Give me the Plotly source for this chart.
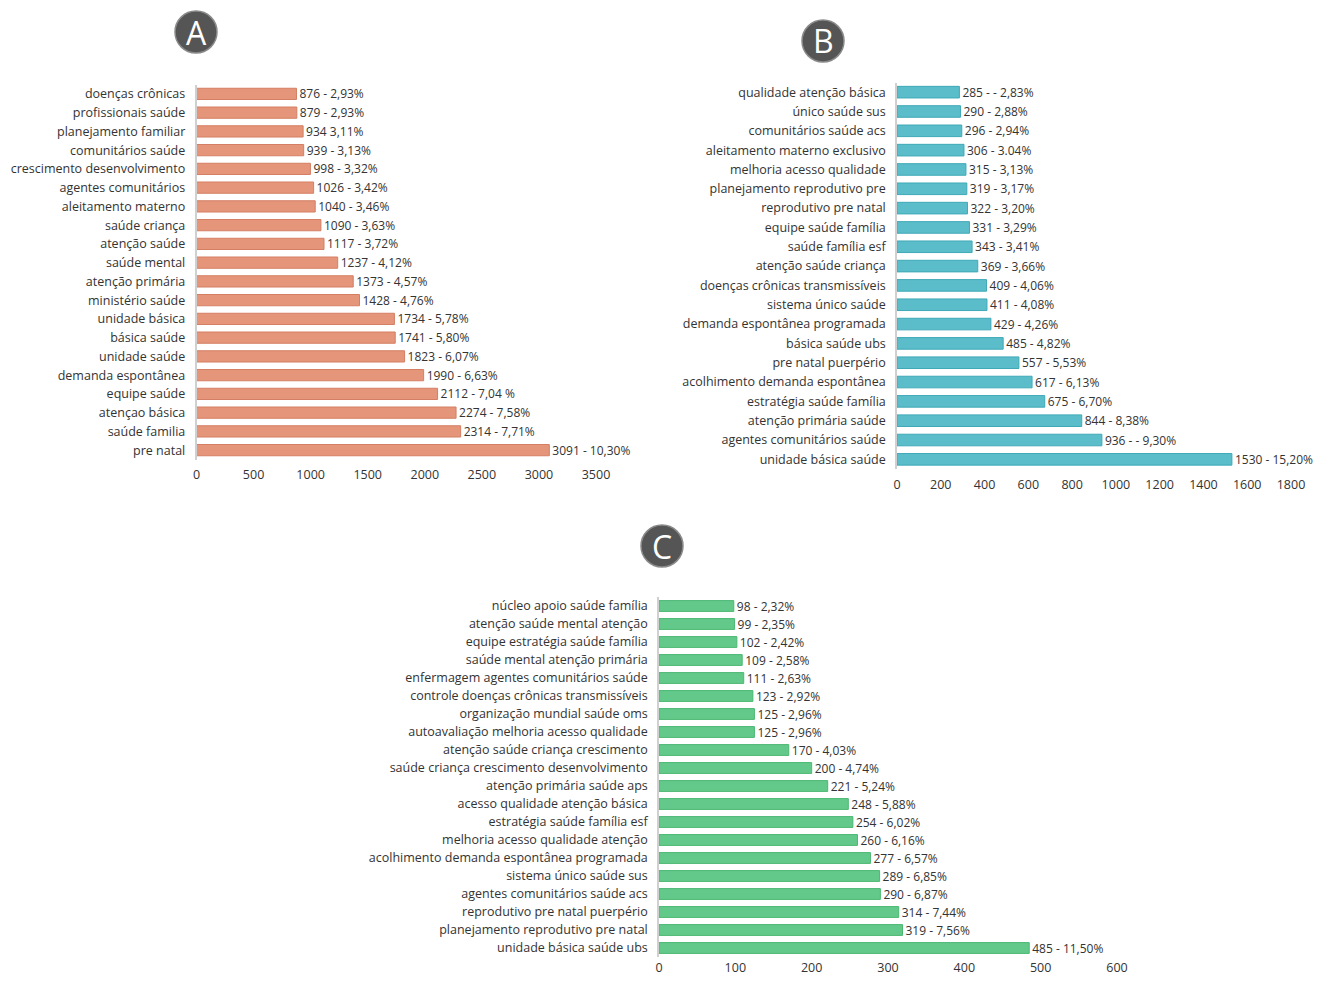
import plotly.graph_objects as go

# painel A - termos mais frequentes (bigramas)
cats_a = ["doenças crônicas", "profissionais saúde", "planejamento familiar", "comunitários saúde",
          "crescimento desenvolvimento", "agentes comunitários", "aleitamento materno", "saúde criança",
          "atenção saúde", "saúde mental", "atenção primária", "ministério saúde", "unidade básica",
          "básica saúde", "unidade saúde", "demanda espontânea", "equipe saúde", "atençao básica",
          "saúde familia", "pre natal"]
vals_a = [876, 879, 934, 939, 998, 1026, 1040, 1090, 1117, 1237, 1373, 1428, 1734, 1741, 1823,
          1990, 2112, 2274, 2314, 3091]
text_a = ["876 - 2,93%", "879 - 2,93%", "934 3,11%", "939 - 3,13%", "998 - 3,32%", "1026 - 3,42%",
          "1040 - 3,46%", "1090 - 3,63%", "1117 - 3,72%", "1237 - 4,12%", "1373 - 4,57%",
          "1428 - 4,76%", "1734 - 5,78%", "1741 - 5,80%", "1823 - 6,07%", "1990 - 6,63%",
          "2112 - 7,04 %", "2274 - 7,58%", "2314 - 7,71%", "3091 - 10,30%"]

# painel B - trigramas
cats_b = ["qualidade atenção básica", "único saúde sus", "comunitários saúde acs",
          "aleitamento materno exclusivo", "melhoria acesso qualidade", "planejamento reprodutivo pre",
          "reprodutivo pre natal", "equipe saúde família", "saúde família esf", "atenção saúde criança",
          "doenças crônicas transmissíveis", "sistema único saúde", "demanda espontânea programada",
          "básica saúde ubs", "pre natal puerpério", "acolhimento demanda espontânea",
          "estratégia saúde família", "atenção primária saúde", "agentes comunitários saúde",
          "unidade básica saúde"]
vals_b = [285, 290, 296, 306, 315, 319, 322, 331, 343, 369, 409, 411, 429, 485, 557, 617, 675,
          844, 936, 1530]
text_b = ["285 - - 2,83%", "290 - 2,88%", "296 - 2,94%", "306 - 3.04%", "315 - 3,13%", "319 - 3,17%",
          "322 - 3,20%", "331 - 3,29%", "343 - 3,41%", "369 - 3,66%", "409 - 4,06%", "411 - 4,08%",
          "429 - 4,26%", "485 - 4,82%", "557 - 5,53%", "617 - 6,13%", "675 - 6,70%", "844 - 8,38%",
          "936 - - 9,30%", "1530 - 15,20%"]

# painel C - quadrigramas
cats_c = ["núcleo apoio saúde família", "atenção saúde mental atenção", "equipe estratégia saúde família",
          "saúde mental atenção primária", "enfermagem agentes comunitários saúde",
          "controle doenças crônicas transmissíveis", "organização mundial saúde oms",
          "autoavaliação melhoria acesso qualidade", "atenção saúde criança crescimento",
          "saúde criança crescimento desenvolvimento", "atenção primária saúde aps",
          "acesso qualidade atenção básica", "estratégia saúde família esf",
          "melhoria acesso qualidade atenção", "acolhimento demanda espontânea programada",
          "sistema único saúde sus", "agentes comunitários saúde acs", "reprodutivo pre natal puerpério",
          "planejamento reprodutivo pre natal", "unidade básica saúde ubs"]
vals_c = [98, 99, 102, 109, 111, 123, 125, 125, 170, 200, 221, 248, 254, 260, 277, 289, 290, 314,
          319, 485]
text_c = ["98 - 2,32%", "99 - 2,35%", "102 - 2,42%", "109 - 2,58%", "111 - 2,63%", "123 - 2,92%",
          "125 - 2,96%", "125 - 2,96%", "170 - 4,03%", "200 - 4,74%", "221 - 5,24%", "248 - 5,88%",
          "254 - 6,02%", "260 - 6,16%", "277 - 6,57%", "289 - 6,85%", "290 - 6,87%", "314 - 7,44%",
          "319 - 7,56%", "485 - 11,50%"]

# a pagina tem margem de 8px, entao a figura fica um pouco menor que a janela
OFF = 8
W, H = 1325 - 2 * OFF, 984 - 2 * OFF
FONT = "Open Sans"
TXT = "#333333"


def px(x):
    return (x - OFF) / W


def py(y):
    return 1 - (y - OFF) / H


paineis = [
    # cats, vals, text, cor, borda, x dominio, y dominio, max, passo, letra, centro circulo, standoff
    (cats_a, vals_a, text_a, "#E4957A", "#D47F63", [px(196.5), px(596)], [py(459.5), py(84.5)],
     3500, 500, "A", (196, 32), 6),
    (cats_b, vals_b, text_b, "#5BBDC9", "#3FA9B7", [px(897), px(1291)], [py(469), py(82.5)],
     1800, 200, "B", (823, 41), 6),
    (cats_c, vals_c, text_c, "#63C98A", "#4BB872", [px(659), px(1117)], [py(957), py(597)],
     600, 100, "C", (662, 546), 1),
]

fig = go.Figure()
r = 21
for i, (cats, vals, txt, cor, borda, xd, yd, xmax, passo, letra, (cx, cy), so) in enumerate(paineis):
    n = "" if i == 0 else str(i + 1)
    fig.add_trace(go.Bar(
        x=vals, y=cats, orientation="h", text=txt, textposition="outside",
        constraintext="none", textfont=dict(family=FONT, size=12, color=TXT), cliponaxis=False,
        marker=dict(color=cor, line=dict(color=borda, width=1)), width=0.6,
        xaxis="x" + n, yaxis="y" + n, showlegend=False, hoverinfo="x+y",
    ))
    fig.update_layout(**{
        "xaxis" + n: dict(domain=xd, range=[0, xmax], dtick=passo, tick0=0, showgrid=False,
                          zeroline=False, showline=False, ticks="", anchor="y" + n, automargin=False,
                          ticklabelstandoff=so, tickfont=dict(family=FONT, size=12.5, color=TXT)),
        "yaxis" + n: dict(domain=yd, autorange="reversed", showgrid=False, showline=True,
                          linecolor="#D0D0D0", linewidth=1.5, ticks="", anchor="x" + n,
                          automargin=False, ticklabelstandoff=7,
                          tickfont=dict(family=FONT, size=12.5, color=TXT)),
    })
    # circulo com a letra do painel
    fig.add_shape(type="circle", xref="paper", yref="paper",
                  x0=px(cx - r), x1=px(cx + r), y0=py(cy + r), y1=py(cy - r),
                  fillcolor="#555555", line=dict(color="#8A8A8A", width=1.5))
    fig.add_annotation(x=px(cx), y=py(cy), xref="paper", yref="paper", text=letra,
                       showarrow=False, font=dict(family=FONT, size=32, color="white"),
                       xanchor="center", yanchor="middle")

fig.update_layout(
    width=W, height=H, margin=dict(l=0, r=0, t=0, b=0),
    paper_bgcolor="white", plot_bgcolor="white",
    bargap=0.4, font=dict(family=FONT, color=TXT),
)

fig.write_html("out.html")
